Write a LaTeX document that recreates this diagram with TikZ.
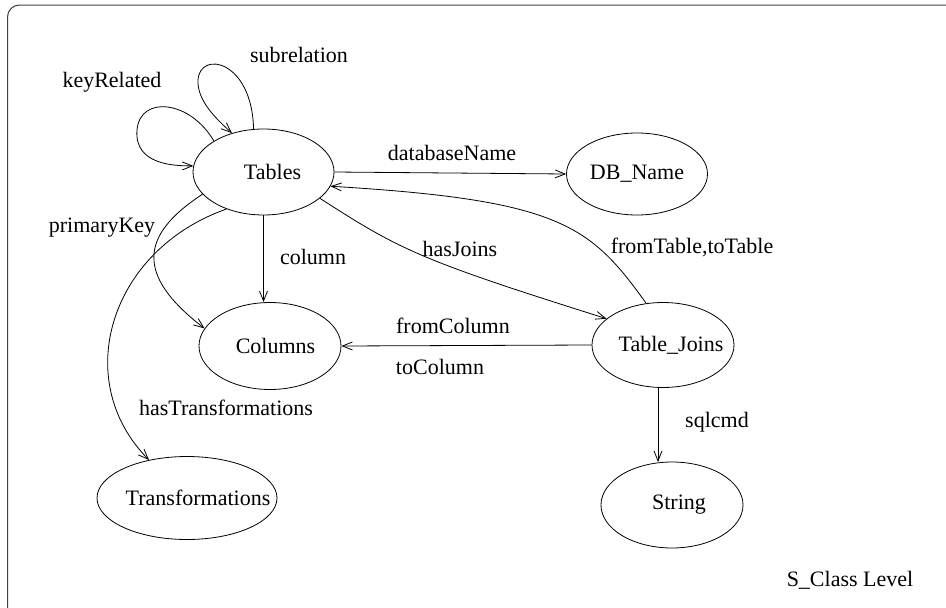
\documentclass[tikz,border=0pt]{standalone}
\usepackage{fontspec}
\setmainfont{Liberation Serif}
\usetikzlibrary{shapes.geometric,arrows.meta}
\tikzset{
  ov/.style={ellipse, draw, line width=0.8pt, inner sep=0pt},
  arr/.style={line width=0.8pt, -{Straight Barb[length=10pt,width=8pt]}},
  lbl/.style={inner sep=0pt},
  every node/.style={font=\fontsize{22}{26}\selectfont}
}
\begin{document}
\begin{tikzpicture}[x=1pt,y=-1pt]
\useasboundingbox (0,0) rectangle (946,608);
\begin{scope}
\clip (0,0) rectangle (946,608);
\draw[line width=1pt, black!75, rounded corners=12pt] (7.5,5) rectangle (990,620);
\end{scope}

% nodes
\node[ov, minimum width=141pt, minimum height=86pt] (tab) at (263.5,172) {\makebox[0pt]{\hspace*{18pt}Tables}};
\node[ov, minimum width=141pt, minimum height=82pt] (db) at (637,174) {\makebox[0pt]{DB\_Name}};
\node[ov, minimum width=142pt, minimum height=87pt] (col) at (270,346) {\makebox[0pt]{\hspace*{11pt}Columns}};
\node[ov, minimum width=142pt, minimum height=85pt] (tj) at (663,345) {\makebox[0pt]{\hspace*{16pt}Table\_Joins}};
\node[ov, minimum width=142pt, minimum height=86pt] (str) at (672,505) {\makebox[0pt]{\hspace*{14pt}String}};
\node[ov, minimum width=180pt, minimum height=83pt] (trans) at (187,498) {\makebox[0pt]{\hspace*{22pt}Transformations}};

% labels
\node[lbl] (lsub) at (299,55) {subrelation};
\node[lbl] (lkey) at (112,82) {keyRelated};
\node[lbl] (lpk) at (102,228) {primaryKey};
\node[lbl] (ldb) at (452,153) {databaseName};
\node[lbl] (lhj) at (460,249) {hasJoins};
\node[lbl] (lft) at (692,247) {fromTable,toTable};
\node[lbl] (lfc) at (453,326) {fromColumn};
\node[lbl] (ltc) at (440,367) {toColumn};
\node[lbl] (lcol) at (313,257) {column};
\node[lbl] (lht) at (226,408) {hasTransformations};
\node[lbl] (lsql) at (717,422) {sqlcmd};
\node[lbl] (lscl) at (850,580) {S\_Class Level};

% connectors
\draw[arr] (tab.148) .. controls (190,100) and (140,95) .. (137,130)
  .. controls (134,165) and (175,166) .. (tab.175);
\draw[arr] (tab.103) .. controls (252,60) and (200,50) .. (198,80)
  .. controls (197,100) and (215,118) .. (tab.129);
\draw[arr] (tab.east) -- (db.west);
\draw[arr] (tj.112) .. controls (590,225) and (560,200) .. (tab.-12);
\draw[arr] (tab.-25) .. controls (400,250) and (420,260) .. (tj.155);
\draw[arr] (tj.west) -- (col.east);
\draw[arr] (tab.south) -- (tab.south |- col.north);
\draw[arr] (tab.200) .. controls (140,235) and (135,275) .. (col.165);
\draw[arr] (tab.225) .. controls (110,250) and (70,380) .. (trans.135);
\draw[arr] (tj.south -| 658,0) -- (658,462);
\end{tikzpicture}
\end{document}
